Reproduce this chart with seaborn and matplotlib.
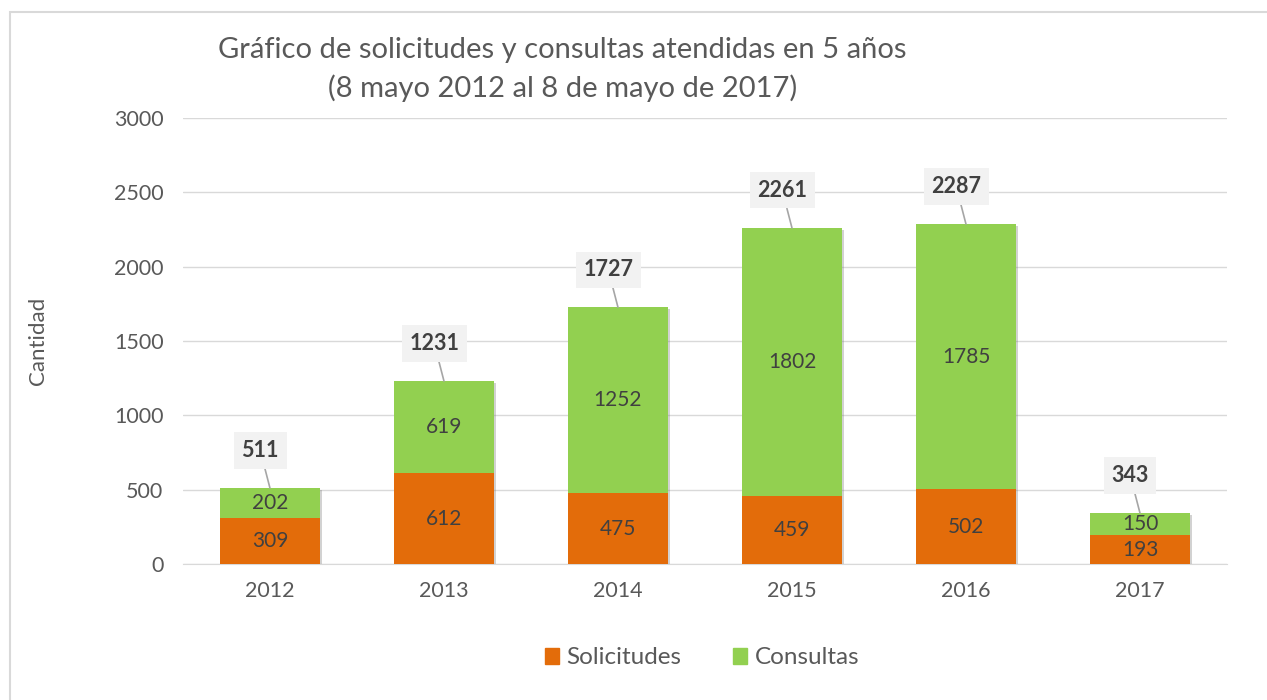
import matplotlib
matplotlib.use("Agg")
import matplotlib.pyplot as plt
import matplotlib.patheffects as pe
import seaborn as sns
import pandas as pd
from matplotlib.patches import Patch, Rectangle

# data
years = ["2012", "2013", "2014", "2015", "2016", "2017"]
solicitudes = [309, 612, 475, 459, 502, 193]
consultas = [202, 619, 1252, 1802, 1785, 150]

orange = "#E36C0A"
green = "#92D050"
text_grey = "#595959"
dark = "#404040"

sns.set_style("white")
plt.rcParams["font.family"] = ["Lato", "DejaVu Sans"]

df = pd.DataFrame({"year": years, "sol": solicitudes, "cons": consultas})
df["total"] = df["sol"] + df["cons"]

fig = plt.figure(figsize=(12.67, 7), dpi=100)
ax = fig.add_axes([0.1444, 0.1943, 0.824, 0.6371])

# stacked bars: total in green, solicitudes drawn over it in orange
sns.barplot(data=df, x="year", y="total", color=green, width=0.575,
            saturation=1, linewidth=0, ax=ax, zorder=3)
sns.barplot(data=df, x="year", y="sol", color=orange, width=0.575,
            saturation=1, linewidth=0, ax=ax, zorder=3)

# soft shadow under the green stacks only (the orange sits inside them)
for bar in ax.patches[:len(years)]:
    bar.set_path_effects([pe.SimplePatchShadow(offset=(1.5, -1.5),
                                               shadow_rgbFace="#808080",
                                               alpha=0.35), pe.Normal()])

for i, row in df.iterrows():
    ax.text(i, row["sol"] / 2, str(row["sol"]), ha="center", va="center",
            fontsize=15, color=dark, zorder=4)
    ax.text(i, row["sol"] + row["cons"] / 2, str(row["cons"]), ha="center",
            va="center", fontsize=15, color=dark, zorder=4)
    ax.annotate(str(row["total"]), xy=(i, row["total"]),
                xytext=(-7, 27), textcoords="offset points",
                ha="center", va="center", fontsize=15.5, fontweight="bold",
                color=dark, zorder=5,
                bbox=dict(boxstyle="square,pad=0.35", fc="#F2F2F2", ec="none"),
                arrowprops=dict(arrowstyle="-", color="#A6A6A6", lw=1.2,
                                shrinkA=0, shrinkB=0))

ax.set_ylim(0, 3000)
ax.set_yticks(range(0, 3001, 500))
ax.yaxis.grid(True, color="#D9D9D9", lw=1, zorder=0)
ax.set_axisbelow(True)
for s in ["top", "right", "left"]:
    ax.spines[s].set_visible(False)
ax.spines["bottom"].set_color("#D9D9D9")
ax.tick_params(axis="x", length=0, labelsize=15.5, colors=text_grey, pad=12)
ax.tick_params(axis="y", length=0, labelsize=15.5, colors=text_grey, pad=14)
ax.set_xlabel("")
ax.set_ylabel("Cantidad", fontsize=16, color=text_grey)
ax.yaxis.set_label_coords(-0.129, 0.5)

fig.text(0.444, 0.928, "Gráfico de solicitudes y consultas atendidas en 5 años",
         ha="center", va="center", fontsize=21, color=text_grey)
fig.text(0.444, 0.874, "(8 mayo 2012 al 8 de mayo de 2017)",
         ha="center", va="center", fontsize=21, color=text_grey)

handles = [Patch(color=orange, label="Solicitudes"),
           Patch(color=green, label="Consultas")]
fig.legend(handles=handles, loc="center", bbox_to_anchor=(0.554, 0.06),
           ncol=2, frameon=False, fontsize=17.5, handlelength=0.6,
           handleheight=0.6, handletextpad=0.3, columnspacing=2.1,
           labelcolor=text_grey)

fig.patches.append(Rectangle((10 / 1267, -0.1), 1.2, 1 - 12 / 700 + 0.1,
                             transform=fig.transFigure, fill=False,
                             ec="#D9D9D9", lw=1.5))

fig.savefig("out.png", dpi=100)
